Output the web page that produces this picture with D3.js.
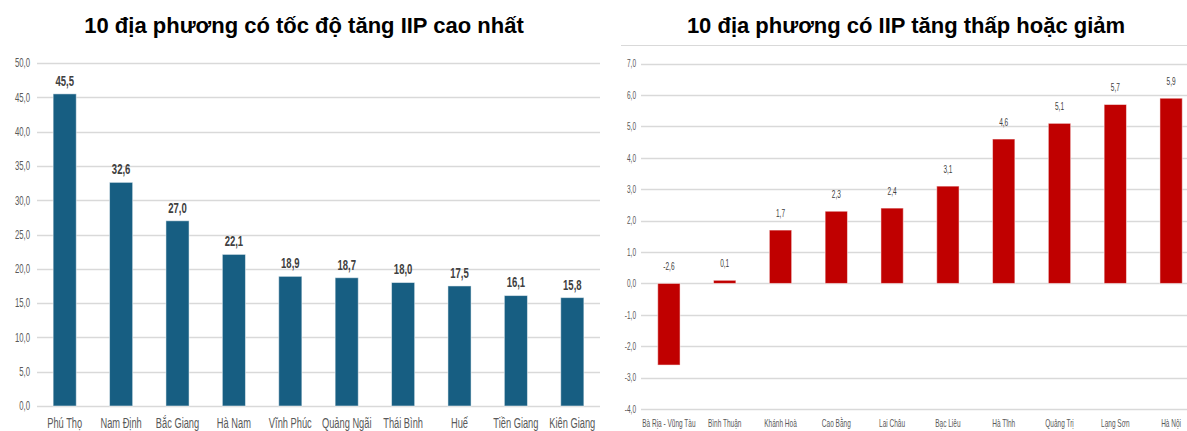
<!DOCTYPE html>
<html>
<head>
<meta charset="utf-8">
<script src="https://cdn.jsdelivr.net/npm/d3@7"></script>
<style>
  body { margin: 0; background: #fff; }
  .narrow { font-family: "Liberation Sans", Arial, sans-serif; }
  .title { font-family: "Liberation Sans", Arial, sans-serif; font-weight: bold; font-size: 22px; fill: #000; }
</style>
</head>
<body>
<svg id="chart" width="1187" height="431"></svg>
<script>
// left chart data
var topNames = ["Phú Thọ", "Nam Định", "Bắc Giang", "Hà Nam", "Vĩnh Phúc", "Quảng Ngãi", "Thái Bình", "Huế", "Tiền Giang", "Kiên Giang"];
var topValues = [45.5, 32.6, 27.0, 22.1, 18.9, 18.7, 18.0, 17.5, 16.1, 15.8];
var topTicks = [0, 5, 10, 15, 20, 25, 30, 35, 40, 45, 50];

// right chart data
var lowNames = ["Bà Rịa - Vũng Tàu", "Bình Thuận", "Khánh Hoà", "Cao Bằng", "Lai Châu", "Bạc Liêu", "Hà Tĩnh", "Quảng Trị", "Lạng Sơn", "Hà Nội"];
var lowValues = [-2.6, 0.1, 1.7, 2.3, 2.4, 3.1, 4.6, 5.1, 5.7, 5.9];
var lowTicks = [-4, -3, -2, -1, 0, 1, 2, 3, 4, 5, 6, 7];

var fmt = function(d) { return d.toFixed(1).replace('.', ','); };
var svg = d3.select('#chart');

// no narrow font installed, so squeeze text horizontally
function at(px, py, k) {
    return 'translate(' + px + ',' + py + ') scale(' + k + ',1)';
}

function drawChart(opt) {
    var g = svg.append('g');

    var x = d3.scaleBand()
        .domain(opt.names)
        .range(opt.xRange)
        .paddingInner(opt.pad)
        .paddingOuter(opt.pad / 2);

    var y = d3.scaleLinear()
        .domain(opt.yDomain)
        .range(opt.yRange);

    var mid = function(name) { return x(name) + x.bandwidth() / 2; };

    // title
    g.append('text')
        .attr('class', 'title')
        .attr('x', opt.titleX)
        .attr('y', 33)
        .attr('text-anchor', 'middle')
        .text(opt.title);

    // grid lines
    g.selectAll('.grid')
        .data(opt.ticks)
        .enter().append('line')
        .attr('x1', opt.gridX[0])
        .attr('x2', opt.gridX[1])
        .attr('y1', function(d) { return Math.round(y(d)) + 0.5; })
        .attr('y2', function(d) { return Math.round(y(d)) + 0.5; })
        .attr('stroke', '#d9d9d9')
        .attr('stroke-width', 1.5);

    // y tick labels
    g.selectAll('.ytick')
        .data(opt.ticks)
        .enter().append('text')
        .attr('class', 'narrow')
        .attr('transform', function(d) { return at(opt.tickX, y(d), 0.62); })
        .attr('dy', '0.35em')
        .attr('text-anchor', 'end')
        .attr('font-size', opt.tickSize)
        .attr('fill', '#595959')
        .text(fmt);

    // bars
    g.selectAll('.bar')
        .data(opt.values)
        .enter().append('rect')
        .attr('x', function(d, i) { return x(opt.names[i]); })
        .attr('width', x.bandwidth())
        .attr('y', function(d) { return y(Math.max(0, d)); })
        .attr('height', function(d) { return Math.abs(y(d) - y(0)); })
        .attr('fill', opt.color)
        .attr('stroke', '#fff')
        .attr('stroke-opacity', 0.5)
        .attr('stroke-width', 1);

    // value labels
    g.selectAll('.val')
        .data(opt.values)
        .enter().append('text')
        .attr('class', 'narrow')
        .attr('transform', function(d, i) {
            return at(mid(opt.names[i]), y(Math.max(0, d)) - opt.labelOffset, opt.valSqueeze);
        })
        .attr('dy', '0.35em')
        .attr('text-anchor', 'middle')
        .attr('font-size', opt.valSize)
        .attr('font-weight', opt.valWeight)
        .attr('fill', '#404040')
        .text(fmt);

    // category labels
    g.selectAll('.cat')
        .data(opt.names)
        .enter().append('text')
        .attr('class', 'narrow')
        .attr('transform', function(d) { return at(mid(d), opt.catY, 0.62); })
        .attr('text-anchor', 'middle')
        .attr('font-size', opt.catSize)
        .attr('fill', '#595959')
        .text(function(d) { return d; });
}

drawChart({
    title: '10 địa phương có tốc độ tăng IIP cao nhất',
    titleX: 304,
    names: topNames, values: topValues, ticks: topTicks,
    xRange: [36.5, 600.5], pad: 0.59,
    yDomain: [0, 50], yRange: [406, 63],
    gridX: [37, 600], tickX: 30, tickSize: 12.5,
    color: '#175E82', labelOffset: 13, valSize: 14, valWeight: 'bold', valSqueeze: 0.68,
    catY: 428, catSize: 15
});

// thin rule under the right title
svg.append('line')
    .attr('x1', 621).attr('x2', 1187)
    .attr('y1', 45.5).attr('y2', 45.5)
    .attr('stroke', '#d9d9d9').attr('stroke-width', 1.2);

drawChart({
    title: '10 địa phương có IIP tăng thấp hoặc giảm',
    titleX: 906,
    names: lowNames, values: lowValues, ticks: lowTicks,
    xRange: [641, 1199], pad: 0.6,
    yDomain: [-4, 7], yRange: [409, 63.7],
    gridX: [641, 1187], tickX: 636, tickSize: 10.5,
    color: '#C00000', labelOffset: 17, valSize: 10.5, valWeight: 'normal', valSqueeze: 0.62,
    catY: 427, catSize: 10.5
});
</script>
</body>
</html>
